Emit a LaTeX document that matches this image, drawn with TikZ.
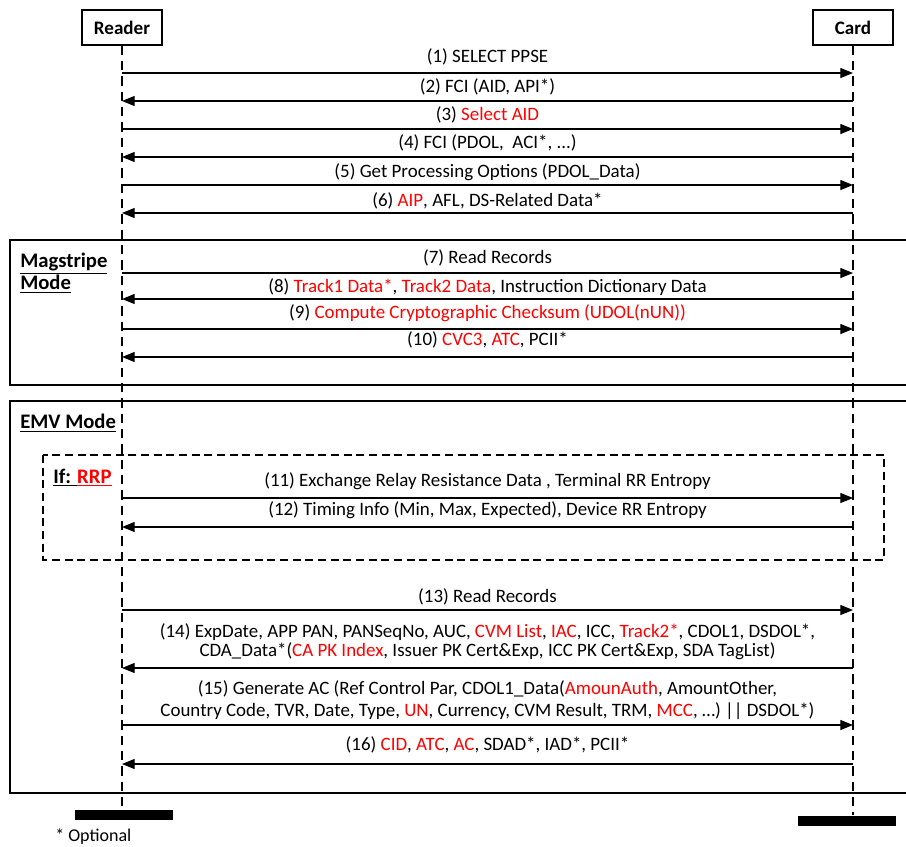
\documentclass[tikz,border=0pt]{standalone}
\usepackage{fontspec}
\setmainfont{Carlito}
\usetikzlibrary{arrows.meta}
\newcommand{\hl}[1]{\textcolor{red}{#1}}
\begin{document}
\begin{tikzpicture}[x=0.75pt,y=-0.75pt,
  txt/.style={font=\fontsize{14.2}{14.25}\selectfont},
  actor/.style={draw, line width=1.1pt, minimum width=60pt, minimum height=26.25pt,
    inner sep=0, font=\fontsize{14.3}{15}\selectfont\bfseries},
  lifeline/.style={line width=1.5pt, dash pattern=on 7pt off 4.5pt},
  msg/.style={line width=0.9pt, -{Triangle[length=9.5pt,width=7.5pt]}},
  lbl/.style={txt, inner sep=1pt, align=center},
  frame/.style={line width=1.1pt},
  guard/.style={line width=1pt, dash pattern=on 6pt off 3.5pt},
  tag/.style={font=\fontsize{15.5}{16.5}\selectfont\bfseries, anchor=north west, inner sep=0, align=left},
  endbar/.style={fill=black, inner sep=0, minimum width=73.5pt, minimum height=7.5pt}
]
\useasboundingbox (0,0) rectangle (906,846);

% participants
\node[actor] (reader) at (122,27.5) {Reader};
\node[actor] (card) at (853,27.5) {Card};
\node[endbar] (rend) at (124,815) {};
\node[endbar] (cend) at (846.5,820.5) {};

% mode frames (right edge runs off the page)
\draw[frame] (906,240) -| (10,385) -- (906,385);
\draw[frame] (906,401) -| (10,793) -- (906,793);
\node[tag] (magtag) at (20,253) {\underline{Magstripe}\\\underline{Mode}};
\node[tag] (emvtag) at (20,414) {\underline{EMV Mode}};

% relay-resistance guard
\draw[guard] (43,455) rectangle (884,560);
\node[tag] (rrptag) at (53,469) {\underline{If: }\hl{\underline{RRP}}};

% lifelines
\draw[lifeline] (reader.south) -- (reader.south |- rend.north);
\draw[lifeline] (card.south) -- (card.south |- cend.north);

% anchor points on the lifelines for every message
\foreach \n/\y in {1/73,2/101,3/129,4/157,5/185,6/213,7/273,8/299,9/329,10/357,
                   11/498,12/527,13/610,14/668,15/725,16/764} {
  \coordinate (r\n) at (122,\y);
  \coordinate (c\n) at (853,\y);
}

% messages
\draw[msg] (r1) -- (c1);
\node[lbl] (l1) at (487.5,57) {(1) SELECT PPSE};
\draw[msg] (c2) -- (r2);
\node[lbl] (l2) at (487.5,87) {(2) FCI (AID, API*)};
\draw[msg] (r3) -- (c3);
\node[lbl] (l3) at (487.5,115) {(3) \hl{Select AID}};
\draw[msg] (c4) -- (r4);
\node[lbl] (l4) at (487.5,143) {(4) FCI (PDOL,\ \ ACI*, ...)};
\draw[msg] (r5) -- (c5);
\node[lbl] (l5) at (487.5,172) {(5) Get Processing Options (PDOL\_Data)};
\draw[msg] (c6) -- (r6);
\node[lbl] (l6) at (487.5,201) {(6) \hl{AIP}, AFL, DS-Related Data*};

\draw[msg] (r7) -- (c7);
\node[lbl] (l7) at (487.5,258) {(7) Read Records};
\draw[msg] (c8) -- (r8);
\node[lbl] (l8) at (487.5,287) {(8) \hl{Track1 Data*}, \hl{Track2 Data}, Instruction Dictionary Data};
\draw[msg] (r9) -- (c9);
\node[lbl] (l9) at (487.5,313) {(9) \hl{Compute Cryptographic Checksum (UDOL(nUN))}};
\draw[msg] (c10) -- (r10);
\node[lbl] (l10) at (487.5,340) {(10) \hl{CVC3}, \hl{ATC}, PCII*};

\draw[msg] (r11) -- (c11);
\node[lbl] (l11) at (487.5,481) {(11) Exchange Relay Resistance Data , Terminal RR Entropy};
\draw[msg] (c12) -- (r12);
\node[lbl] (l12) at (487.5,510) {(12) Timing Info (Min, Max, Expected), Device RR Entropy};

\draw[msg] (r13) -- (c13);
\node[lbl] (l13) at (487.5,597) {(13) Read Records};
\draw[msg] (c14) -- (r14);
\node[lbl] (l14) at (487.5,641.5) {(14) ExpDate, APP PAN, PANSeqNo, AUC, \hl{CVM List}, \hl{IAC}, ICC, \hl{Track2*}, CDOL1, DSDOL*,\\
  CDA\_Data*(\hl{CA PK Index}, Issuer PK Cert\&Exp, ICC PK Cert\&Exp, SDA TagList)};
\draw[msg] (r15) -- (c15);
\node[lbl] (l15) at (487.5,700) {(15) Generate AC (Ref Control Par, CDOL1\_Data(\hl{AmounAuth}, AmountOther,\\[2.25pt]
  Country Code, TVR, Date, Type, \hl{UN}, Currency, CVM Result, TRM, \hl{MCC}, \ldots) {|}{|} DSDOL*)};
\draw[msg] (c16) -- (r16);
\node[lbl] (l16) at (487.5,745) {(16) \hl{CID}, \hl{ATC}, \hl{AC}, SDAD*, IAD*, PCII*};

% footnote
\node[font=\fontsize{13.5}{14}\selectfont, anchor=west, inner sep=0] (note) at (55,837) {* Optional};
\end{tikzpicture}
\end{document}
